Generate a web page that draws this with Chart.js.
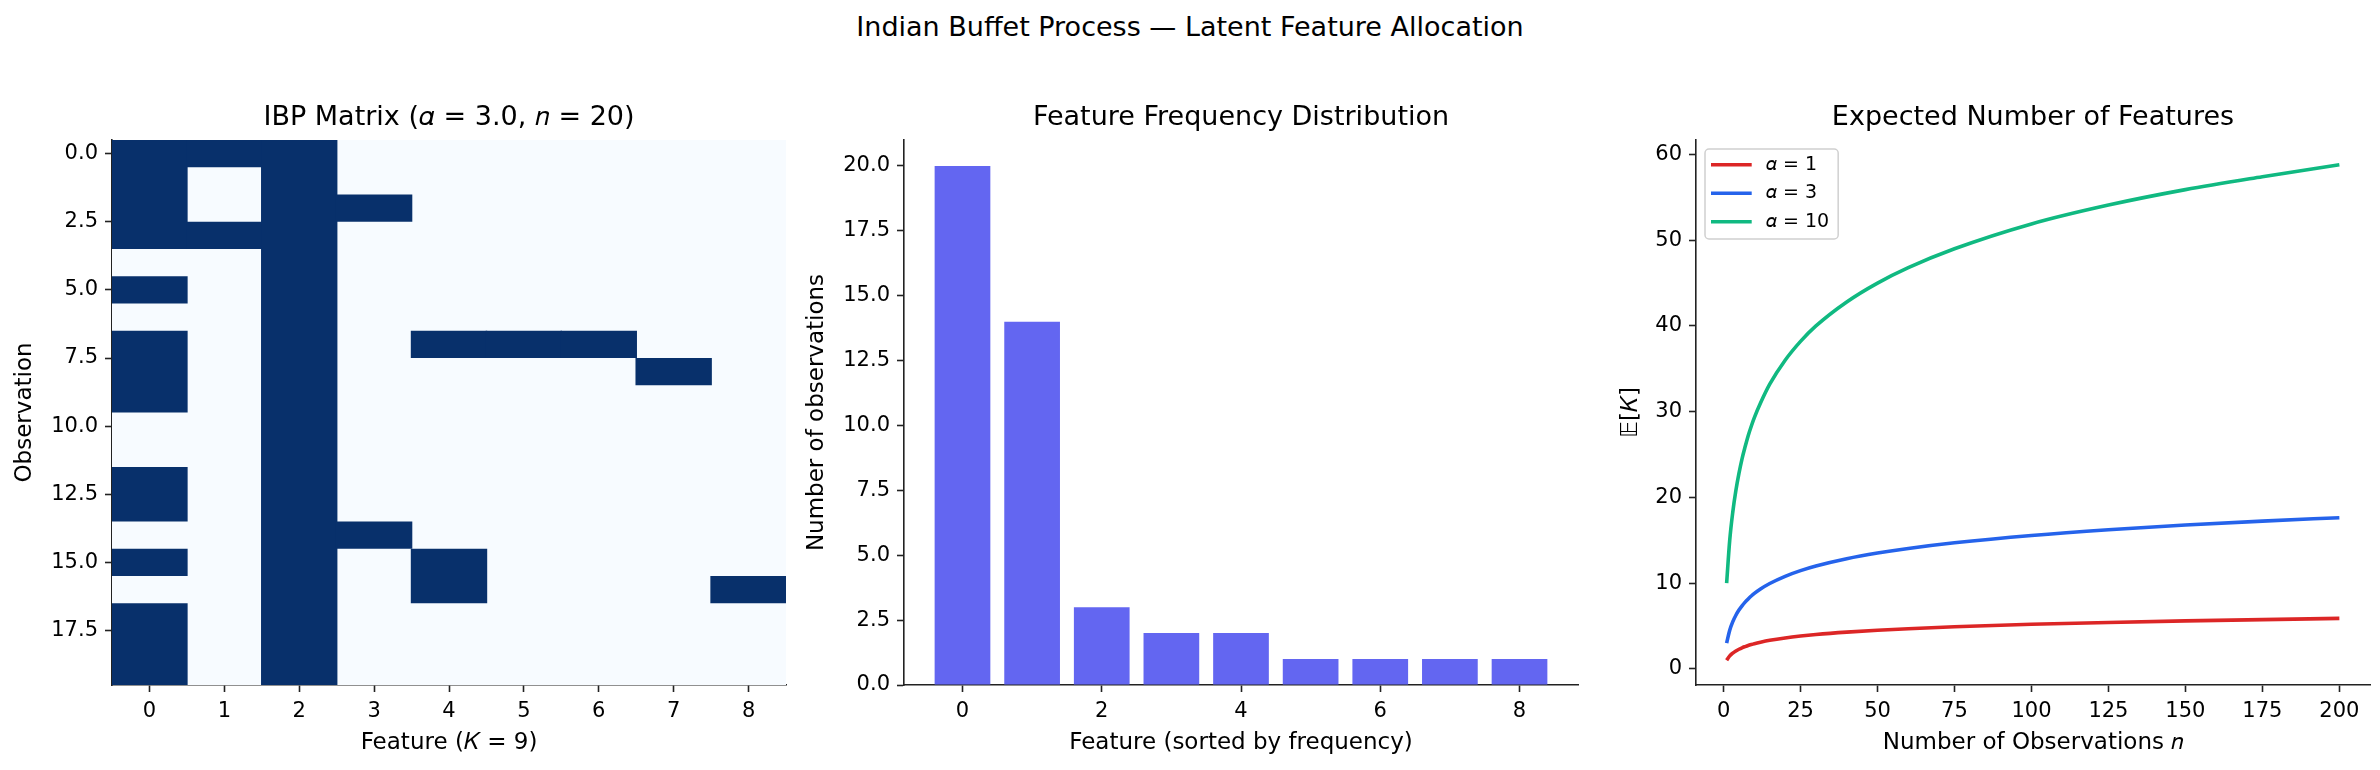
<!DOCTYPE html>
<html>
<head>
<meta charset="utf-8">
<title>Indian Buffet Process — Latent Feature Allocation</title>
<script src="https://cdn.jsdelivr.net/npm/chart.js@4.4.1/dist/chart.umd.min.js"></script>
<style>
  html, body { margin: 0; padding: 0; background: #fff; }
  body { width: 2380px; height: 770px; position: relative; overflow: hidden; font-family: "DejaVu Sans", sans-serif; }
  #suptitle { position: absolute; left: 0; width: 2380px; top: 11px; text-align: center; font-size: 27px; line-height: 32px; color: #000; }
  canvas { position: absolute; top: 102px; }
</style>
</head>
<body>
<div id="suptitle">Indian Buffet Process — Latent Feature Allocation</div>
<canvas id="ibp" width="792" height="668" style="left:0px"></canvas>
<canvas id="freq" width="792" height="668" style="left:792px"></canvas>
<canvas id="growth" width="796" height="668" style="left:1584px"></canvas>
<script>
// IBP sample: rows = observations, columns = features (1 = feature taken)
const ibpMatrix = [
  [1,1,1,0,0,0,0,0,0],
  [1,0,1,0,0,0,0,0,0],
  [1,0,1,1,0,0,0,0,0],
  [1,1,1,0,0,0,0,0,0],
  [0,0,1,0,0,0,0,0,0],
  [1,0,1,0,0,0,0,0,0],
  [0,0,1,0,0,0,0,0,0],
  [1,0,1,0,1,1,1,0,0],
  [1,0,1,0,0,0,0,1,0],
  [1,0,1,0,0,0,0,0,0],
  [0,0,1,0,0,0,0,0,0],
  [0,0,1,0,0,0,0,0,0],
  [1,0,1,0,0,0,0,0,0],
  [1,0,1,0,0,0,0,0,0],
  [0,0,1,1,0,0,0,0,0],
  [1,0,1,0,1,0,0,0,0],
  [0,0,1,0,1,0,0,0,1],
  [1,0,1,0,0,0,0,0,0],
  [1,0,1,0,0,0,0,0,0],
  [1,0,1,0,0,0,0,0,0]
];
const ibpXTicks = [0, 1, 2, 3, 4, 5, 6, 7, 8];
const ibpYTicks = [0, 2.5, 5, 7.5, 10, 12.5, 15, 17.5];

// feature popularity, sorted
const freqFeatures = [0, 1, 2, 3, 4, 5, 6, 7, 8];
const freqCounts = [20, 14, 3, 2, 2, 1, 1, 1, 1];
const freqXTicks = [0, 2, 4, 6, 8];
const freqYTicks = [0, 2.5, 5, 7.5, 10, 12.5, 15, 17.5, 20];

// expected number of features vs n
const growthN = [1, 2, 3, 4, 5, 6, 7, 8, 9, 10, 12, 15, 20, 25, 30, 40, 50, 60, 75, 100, 125, 150, 175, 200];
const growthAlpha1 = [1.00, 1.50, 1.83, 2.08, 2.28, 2.45, 2.59, 2.72, 2.83, 2.93, 3.10, 3.32, 3.60, 3.82, 4.00, 4.28, 4.50, 4.68, 4.90, 5.19, 5.41, 5.59, 5.74, 5.88];
const growthAlpha3 = [3.00, 4.50, 5.50, 6.25, 6.85, 7.35, 7.78, 8.15, 8.49, 8.79, 9.31, 9.95, 10.79, 11.45, 11.99, 12.84, 13.50, 14.04, 14.70, 15.56, 16.23, 16.77, 17.23, 17.63];
const growthAlpha10 = [10.0, 15.0, 18.3, 20.8, 22.8, 24.5, 25.9, 27.2, 28.3, 29.3, 31.0, 33.2, 36.0, 38.2, 40.0, 42.8, 45.0, 46.8, 49.0, 51.9, 54.1, 55.9, 57.4, 58.8];
const growthXTicks = [0, 25, 50, 75, 100, 125, 150, 175, 200];
const growthYTicks = [0, 10, 20, 30, 40, 50, 60];

const FONT = "DejaVu Sans";
const AXIS = "#222";
Chart.defaults.font.family = FONT;
Chart.defaults.color = "#000";

const tickFont = { family: FONT, size: 21 };
const labelFont = { family: FONT, size: 23 };

function titleOpts(text) {
  return {
    display: true, text, fullSize: false, color: "#000",
    font: { family: FONT, size: 27, weight: "normal" },
    padding: { top: 0, bottom: 5.6 }
  };
}

// matplotlib-like axis: spine + outward ticks, no grid
function axis(min, max, tickList, fmt, title, extra) {
  return Object.assign({
    type: "linear", min, max, offset: false,
    afterBuildTicks: s => { s.ticks = tickList.map(v => ({ value: v })); },
    ticks: { font: tickFont, color: "#000", padding: 7, autoSkip: false, maxRotation: 0, callback: fmt },
    grid: { display: true, drawOnChartArea: false, drawTicks: true, tickLength: 7, tickWidth: 1.6, tickColor: AXIS, offset: false },
    border: { display: true, color: AXIS, width: 1.6 },
    title: Object.assign({ display: true, text: title, font: labelFont, color: "#000" }, extra.title)
  }, extra.rest || {});
}
const xFit = s => { s.height = 85; };
const yFit = s => { s.width = 112; };

const common = {
  responsive: false, animation: false, devicePixelRatio: 1, events: []
};

// --- panel 1: IBP matrix as floating bars (vertical runs of 1s)
const ibpRuns = [];
for (let c = 0; c < ibpXTicks.length; c++) {
  let r = 0;
  while (r < ibpMatrix.length) {
    if (ibpMatrix[r][c]) {
      let end = r;
      while (end + 1 < ibpMatrix.length && ibpMatrix[end + 1][c]) end++;
      ibpRuns.push({ x: c, y: [r - 0.5, end + 0.5] });
      r = end + 1;
    } else {
      r++;
    }
  }
}

const heatBg = {
  id: "heatBg",
  beforeDatasetsDraw(chart) {
    const a = chart.chartArea, ctx = chart.ctx;
    ctx.save();
    ctx.fillStyle = "#f7fbff";
    ctx.fillRect(a.left, a.top, a.right - a.left, a.bottom - a.top);
    ctx.restore();
  }
};

new Chart(document.getElementById("ibp"), {
  type: "bar",
  // slight overlap so neighbouring cells don't leave anti-aliased seams
  data: { datasets: [{ data: ibpRuns, backgroundColor: "#08306b", borderWidth: 0, barPercentage: 1, categoryPercentage: 1.02 }] },
  options: Object.assign({}, common, {
    layout: { padding: { left: 0, right: 6, top: 0, bottom: 0 } },
    plugins: { legend: { display: false }, tooltip: { enabled: false }, title: titleOpts("IBP Matrix (𝛼 = 3.0, 𝑛 = 20)") },
    scales: {
      x: axis(-0.5, 8.5, ibpXTicks, v => String(v), "Feature (𝐾 = 9)",
        { title: { padding: { top: 0, bottom: 13 } }, rest: { afterFit: xFit } }),
      y: axis(-0.5, 19.5, ibpYTicks, v => v.toFixed(1), "Observation",
        { title: { padding: { top: 11.2, bottom: 0 } }, rest: { reverse: true, afterFit: yFit } })
    }
  }),
  plugins: [heatBg]
});

// --- panel 2: feature frequency
new Chart(document.getElementById("freq"), {
  type: "bar",
  data: { datasets: [{ data: freqFeatures.map((f, i) => ({ x: f, y: freqCounts[i] })), backgroundColor: "#6366f1", borderWidth: 0, barPercentage: 0.8, categoryPercentage: 1 }] },
  options: Object.assign({}, common, {
    layout: { padding: { left: 0, right: 6, top: 0, bottom: 0 } },
    plugins: { legend: { display: false }, tooltip: { enabled: false }, title: titleOpts("Feature Frequency Distribution") },
    scales: {
      x: axis(-0.84, 8.84, freqXTicks, v => String(v), "Feature (sorted by frequency)",
        { title: { padding: { top: 0, bottom: 13 } }, rest: { afterFit: xFit } }),
      y: axis(0, 21, freqYTicks, v => v.toFixed(1), "Number of observations",
        { title: { padding: { top: 11.2, bottom: 0 } }, rest: { afterFit: yFit } })
    }
  })
});

// --- panel 3: expected features
const legendBox = {
  id: "legendBox",
  afterDatasetsDraw(chart) {
    const ctx = chart.ctx, a = chart.chartArea;
    const x0 = a.left + 9, y0 = a.top + 9;
    ctx.save();
    ctx.font = "19px " + FONT;
    const tw = Math.max(...chart.data.datasets.map(d => ctx.measureText(d.label).width));
    const w = 61 + tw + 9, h = 90;
    ctx.beginPath();
    ctx.roundRect(x0, y0, w, h, 4);
    ctx.fillStyle = "rgba(255,255,255,0.8)";
    ctx.fill();
    ctx.strokeStyle = "#d0d0d0";
    ctx.lineWidth = 1.5;
    ctx.stroke();
    chart.data.datasets.forEach((d, i) => {
      const y = y0 + 15.7 + i * 28.5;
      ctx.beginPath();
      ctx.moveTo(x0 + 6, y);
      ctx.lineTo(x0 + 46.7, y);
      ctx.strokeStyle = d.borderColor;
      ctx.lineWidth = d.borderWidth;
      ctx.stroke();
      ctx.fillStyle = "#000";
      ctx.textBaseline = "middle";
      ctx.fillText(d.label, x0 + 61, y);
    });
    ctx.restore();
  }
};

const lineSet = (label, ys, color) => ({
  label, data: growthN.map((n, i) => ({ x: n, y: ys[i] })),
  borderColor: color, borderWidth: 3.6, pointRadius: 0, fill: false,
  cubicInterpolationMode: "monotone"
});

new Chart(document.getElementById("growth"), {
  type: "line",
  data: {
    datasets: [
      lineSet("𝛼 = 1", growthAlpha1, "#dc2626"),
      lineSet("𝛼 = 3", growthAlpha3, "#2563eb"),
      lineSet("𝛼 = 10", growthAlpha10, "#10b981")
    ]
  },
  options: Object.assign({}, common, {
    layout: { padding: { left: 0, right: 10, top: 0, bottom: 0 } },
    plugins: { legend: { display: false }, tooltip: { enabled: false }, title: titleOpts("Expected Number of Features") },
    scales: {
      x: axis(-8.95, 209.95, growthXTicks, v => String(v), "Number of Observations 𝑛",
        { title: { padding: { top: 0, bottom: 13 } }, rest: { afterFit: xFit } }),
      y: axis(-1.89, 61.69, growthYTicks, v => String(v), "𝔼[𝐾]",
        { title: { padding: { top: 33.2, bottom: 0 } }, rest: { afterFit: yFit } })
    }
  }),
  plugins: [legendBox]
});
</script>
</body>
</html>
